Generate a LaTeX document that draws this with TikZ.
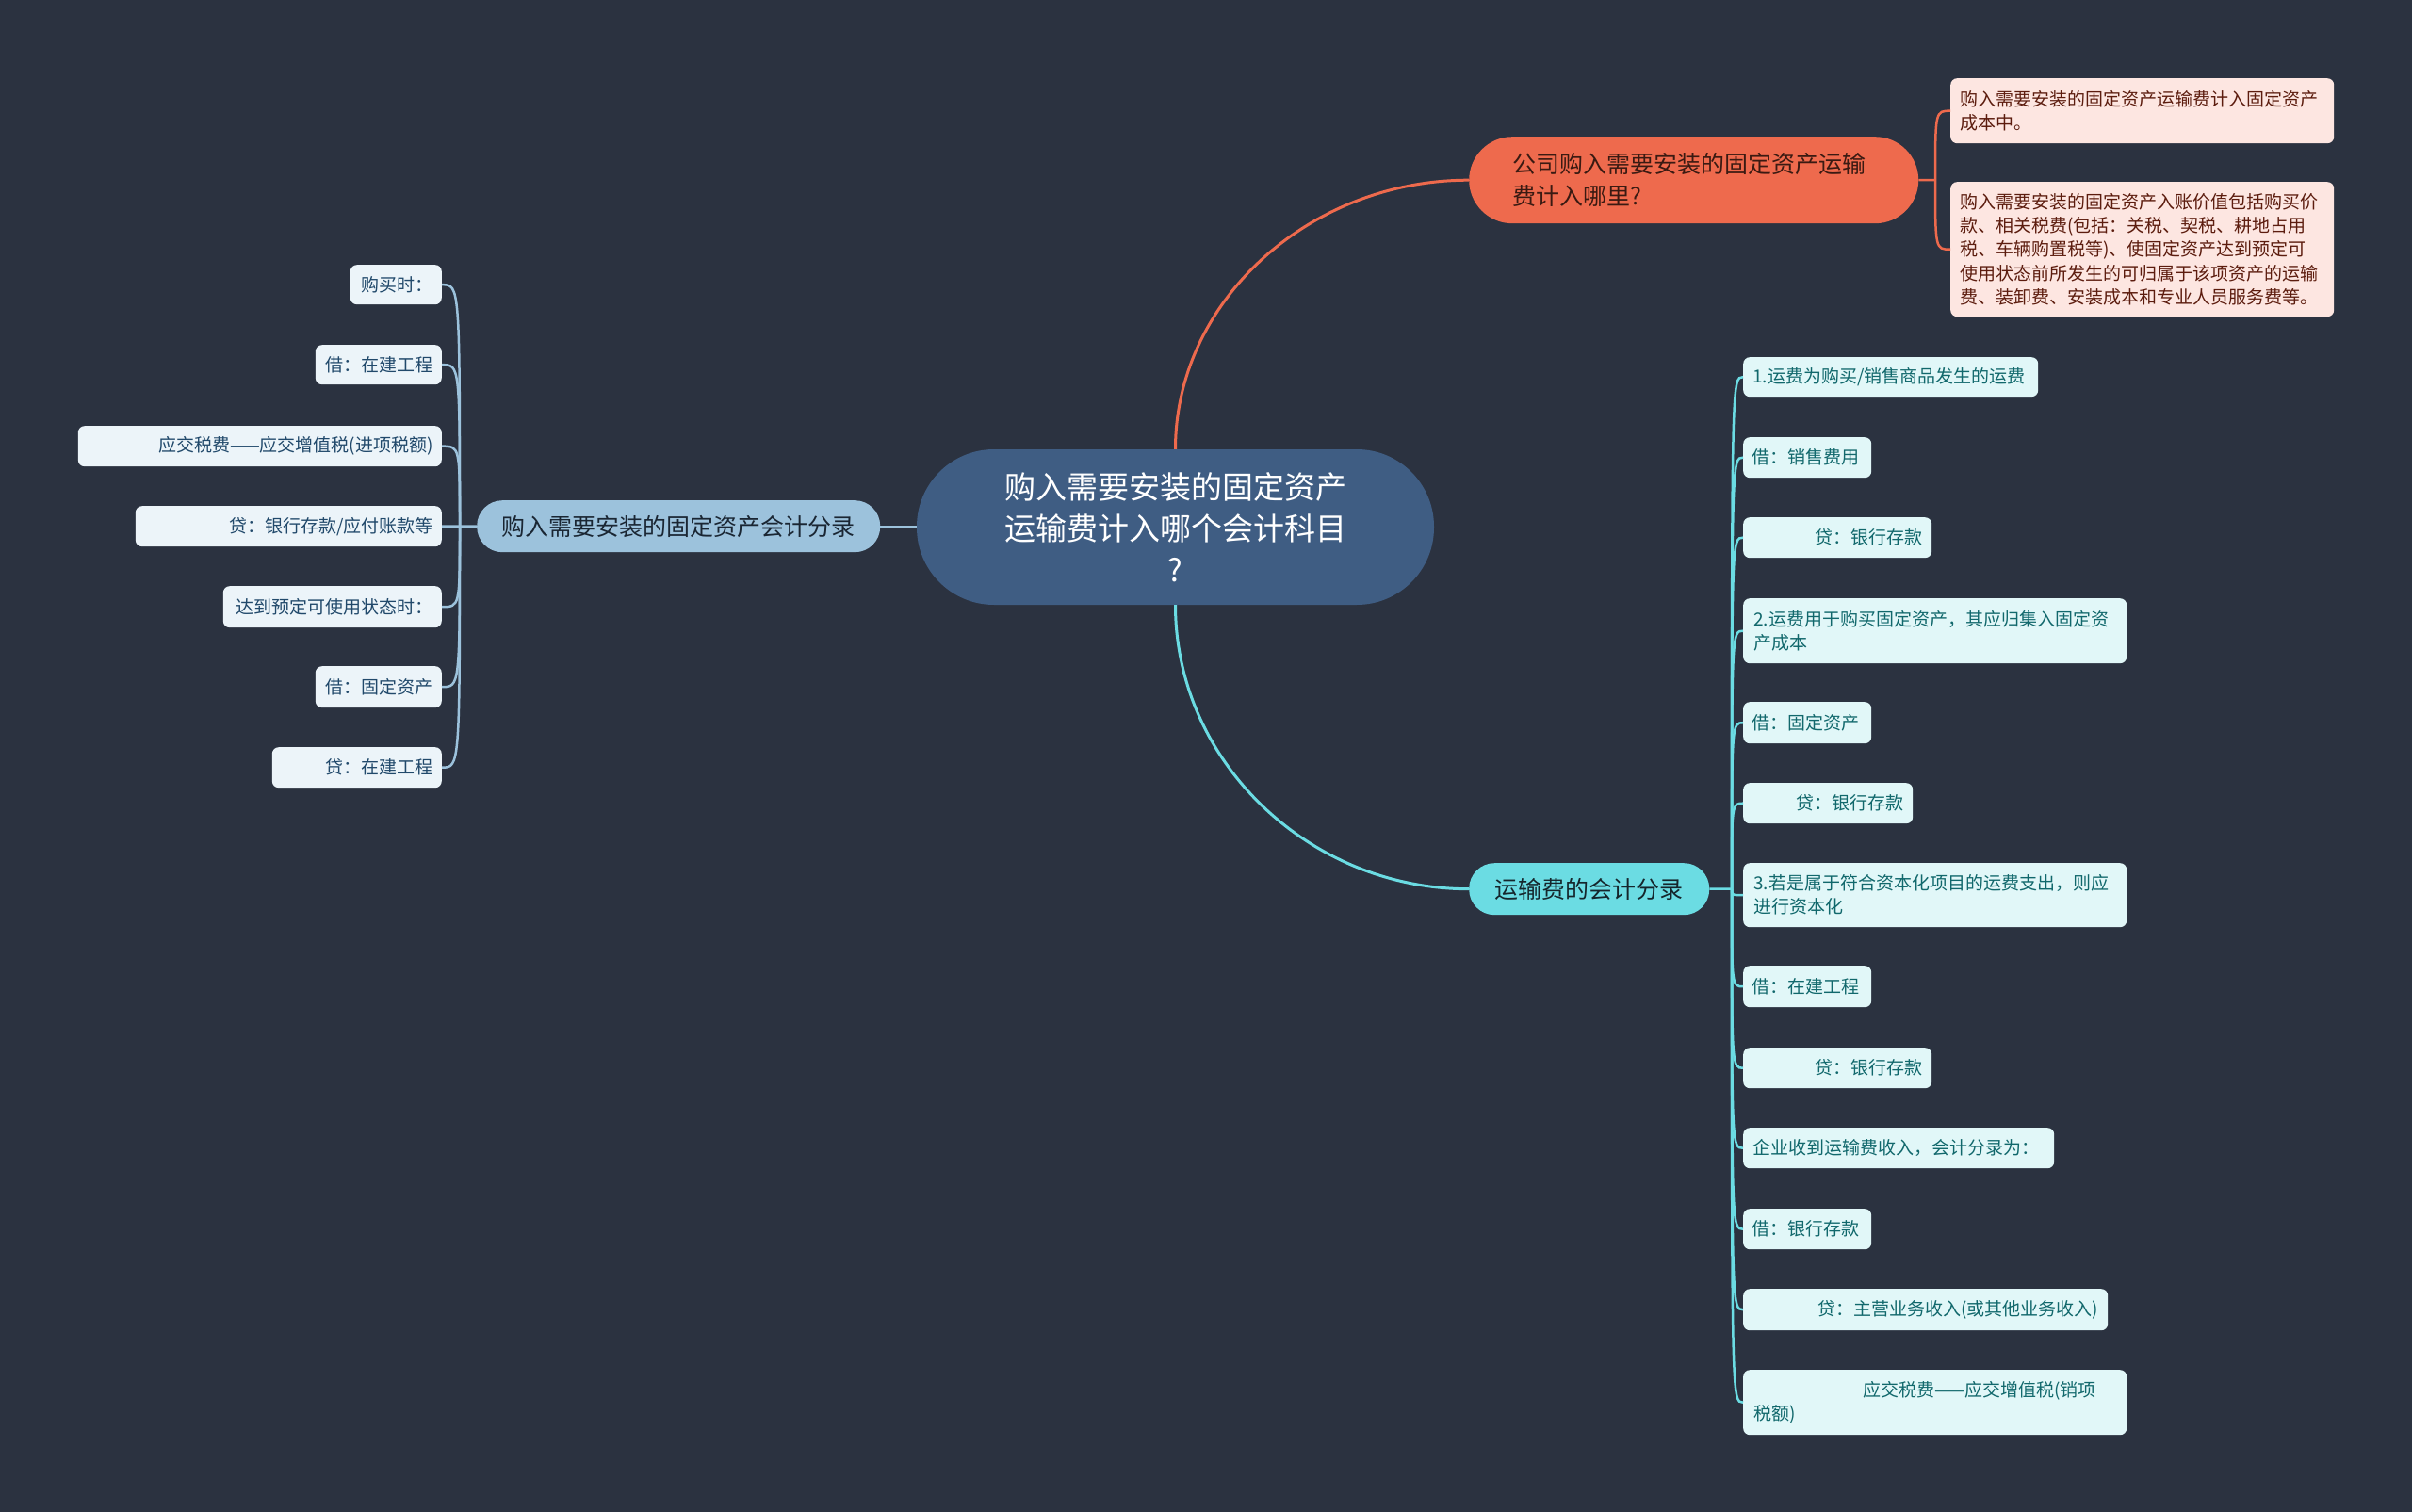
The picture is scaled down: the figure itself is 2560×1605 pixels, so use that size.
\documentclass[tikz,border=0pt]{standalone}
\usepackage{fontspec}
\setmainfont{Noto Sans CJK SC}
\definecolor{bg}{HTML}{2B3240}
\definecolor{centerfill}{HTML}{3F5D83}
\definecolor{orangemain}{HTML}{EE6A4D}
\definecolor{orangefill}{HTML}{FDE6E1}
\definecolor{orangetext}{HTML}{5C1C0E}
\definecolor{orangemaintext}{HTML}{3A1A12}
\definecolor{cyanmain}{HTML}{6BDCE3}
\definecolor{cyanfill}{HTML}{E1F7F8}
\definecolor{cyantext}{HTML}{11686C}
\definecolor{cyanmaintext}{HTML}{15262C}
\definecolor{leftmain}{HTML}{9CC2DC}
\definecolor{leftfill}{HTML}{ECF4F9}
\definecolor{lefttext}{HTML}{21496B}
\definecolor{leftmaintext}{HTML}{1A2633}
\begin{document}
\begin{tikzpicture}[x=1pt,y=-1pt,
  mainbox/.style={inner sep=0pt, anchor=north west, align=center},
  cc/.style={inner sep=0pt, rounded corners=7pt, fill=cyanfill, text=cyantext,
    font=\fontsize{19}{25}\selectfont, anchor=north west},
  lc/.style={inner sep=0pt, rounded corners=7pt, fill=leftfill, text=lefttext,
    font=\fontsize{19}{25}\selectfont, anchor=north east, align=right},
  oc/.style={inner sep=0pt, rounded corners=7pt, fill=orangefill, text=orangetext,
    font=\fontsize{19}{25.3}\selectfont, anchor=north west, align=left},
  cyanline/.style={draw=cyanmain, line width=2.5pt},
  leftline/.style={draw=leftmain, line width=2.5pt},
  orangeline/.style={draw=orangemain, line width=2.5pt},
]
\fill[bg] (0,0) rectangle (2560,1605);
\useasboundingbox (0,0) rectangle (2560,1605);

% central topic
\node[fill=centerfill, text=white, inner sep=0pt, rounded corners=82pt,
  minimum width=549pt, minimum height=165pt, align=center,
  font=\fontsize{33}{44}\selectfont] (c) at (1247.5,559.5)
  {购入需要安装的固定资产\\运输费计入哪个会计科目\\?};

% main branches
\node[mainbox, fill=orangemain, text=orangemaintext, rounded corners=46pt,
  minimum width=477pt, minimum height=92pt, text width=385pt, align=left,
  font=\fontsize{25}{34}\selectfont] (o) at (1559,145)
  {公司购入需要安装的固定资产运输\\费计入哪里?};
\node[mainbox, fill=cyanmain, text=cyanmaintext, rounded corners=27pt,
  minimum width=255pt, minimum height=55pt,
  font=\fontsize{25}{34}\selectfont] (cm) at (1559,916) {运输费的会计分录};
\node[mainbox, fill=leftmain, text=leftmaintext, rounded corners=27pt,
  minimum width=428pt, minimum height=55pt,
  font=\fontsize{25}{34}\selectfont] (lm) at (506,531) {购入需要安装的固定资产会计分录};

% orange children
\node[oc, minimum width=407pt, minimum height=69pt, text width=387pt] (oc1) at (2070,83)
  {购入需要安装的固定资产运输费计入固定资产\\成本中。};
\node[oc, minimum width=407pt, minimum height=143pt, text width=387pt] (oc2) at (2070,193)
  {购入需要安装的固定资产入账价值包括购买价\\款、相关税费(包括：关税、契税、耕地占用\\税、车辆购置税等)、使固定资产达到预定可\\使用状态前所发生的可归属于该项资产的运输\\费、装卸费、安装成本和专业人员服务费等。};

% cyan children
\node[cc, minimum width=313pt, minimum height=42pt, text width=293pt, align=left] (c1) at (1850,379) {1.运费为购买/销售商品发生的运费};
\node[cc, minimum width=136pt, minimum height=43pt, text width=118pt, align=left] (c2) at (1850,464) {借：销售费用};
\node[cc, minimum width=200pt, minimum height=43pt, text width=180pt, align=right] (c3) at (1850,549) {贷：银行存款};
\node[cc, minimum width=407pt, minimum height=69pt, text width=385pt, align=left] (c4) at (1850,635) {2.运费用于购买固定资产，其应归集入固定资\\产成本};
\node[cc, minimum width=136pt, minimum height=44pt, text width=118pt, align=left] (c5) at (1850,745) {借：固定资产};
\node[cc, minimum width=180pt, minimum height=43pt, text width=160pt, align=right] (c6) at (1850,831) {贷：银行存款};
\node[cc, minimum width=407pt, minimum height=68pt, text width=385pt, align=left] (c7) at (1850,916) {3.若是属于符合资本化项目的运费支出，则应\\进行资本化};
\node[cc, minimum width=136pt, minimum height=44pt, text width=118pt, align=left] (c8) at (1850,1025) {借：在建工程};
\node[cc, minimum width=200pt, minimum height=43pt, text width=180pt, align=right] (c9) at (1850,1112) {贷：银行存款};
\node[cc, minimum width=330pt, minimum height=43pt, text width=310pt, align=left] (c10) at (1850,1197) {企业收到运输费收入，会计分录为：};
\node[cc, minimum width=136pt, minimum height=43pt, text width=118pt, align=left] (c11) at (1850,1283) {借：银行存款};
\node[cc, minimum width=387pt, minimum height=44pt, text width=367pt, align=right] (c12) at (1850,1368) {贷：主营业务收入(或其他业务收入)};
\node[cc, minimum width=407pt, minimum height=69pt, text width=385pt, align=left] (c13) at (1850,1454) {\hspace*{116pt}应交税费——应交增值税(销项\\税额)};

% left children
\node[lc, minimum width=97pt, minimum height=42pt, text width=79pt] (l1) at (469,281) {购买时：};
\node[lc, minimum width=134pt, minimum height=42pt, text width=116pt] (l2) at (469,366) {借：在建工程};
\node[lc, minimum width=386pt, minimum height=43pt, text width=368pt] (l3) at (469,452) {应交税费——应交增值税(进项税额)};
\node[lc, minimum width=325pt, minimum height=43pt, text width=307pt] (l4) at (469,537) {贷：银行存款/应付账款等};
\node[lc, minimum width=232pt, minimum height=44pt, text width=214pt] (l5) at (469,622) {达到预定可使用状态时：};
\node[lc, minimum width=134pt, minimum height=44pt, text width=116pt] (l6) at (469,707) {借：固定资产};
\node[lc, minimum width=180pt, minimum height=43pt, text width=162pt] (l7) at (469,793) {贷：在建工程};

% main connectors
\draw[orangeline, line width=3pt] (c.north) .. controls +(0,-157) and +(-170,0) .. (o.west);
\draw[cyanline, line width=3pt] (c.south) .. controls +(0,166) and +(-170,0) .. (cm.west);
\draw[leftline, line width=3pt] (c.west) -- (c.west -| lm.east);

% orange branch connectors
\coordinate (jo) at (2054,191);
\draw[orangeline] (o.east) -- (jo);
\foreach \n in {oc1,oc2} \draw[orangeline] (jo) .. controls (jo |- \n.west) .. (\n.west);

% cyan branch connectors
\coordinate (jc) at (1838,943.5);
\draw[cyanline] (cm.east) -- (jc);
\foreach \n in {c1,c2,c3,c4,c5,c6,c7,c8,c9,c10,c11,c12,c13}
  \draw[cyanline] (jc) .. controls (jc |- \n.west) .. (\n.west);

% left branch connectors
\coordinate (jl) at (488,558.5);
\draw[leftline] (lm.west) -- (jl);
\foreach \n in {l1,l2,l3,l4,l5,l6,l7}
  \draw[leftline] (jl) .. controls (jl |- \n.east) .. (\n.east);
\end{tikzpicture}
\end{document}
